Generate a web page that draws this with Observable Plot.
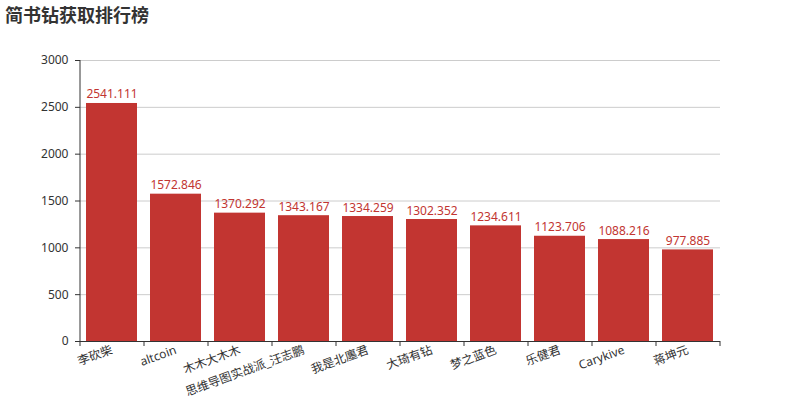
<!DOCTYPE html>
<html>
<head>
<meta charset="utf-8">
<script src="https://cdn.jsdelivr.net/npm/d3@7"></script>
<script src="https://cdn.jsdelivr.net/npm/@observablehq/plot@0.6"></script>
<style>
  body { margin: 0; background: #fff; font-family: "Noto Sans", "Noto Sans CJK SC", sans-serif; }
  #title { height: 30px; line-height: 30px; padding-left: 5px; font-size: 18px; font-weight: bold; color: #333; }
</style>
</head>
<body>
<div id="title">简书钻获取排行榜</div>
<div id="chart"></div>
<script>
const names = ["李砍柴", "altcoin", "木木大木木", "思维导图实战派_汪志鹏", "我是北廛君", "大琦有钻", "梦之蓝色", "乐健君", "Carykive", "蒋坤元"];
const values = [2541.111, 1572.846, 1370.292, 1343.167, 1334.259, 1302.352, 1234.611, 1123.706, 1088.216, 977.885];
const yTicks = [0, 500, 1000, 1500, 2000, 2500, 3000];

const data = names.map((name, i) => ({name, value: values[i]}));
const red = "#c23531";
const band = 64;

const chart = Plot.plot({
  width: 800,
  height: 371,
  marginTop: 30,
  marginBottom: 60,
  marginLeft: 80,
  marginRight: 80,
  style: {fontFamily: "'Noto Sans', 'Noto Sans CJK SC', sans-serif", fontSize: "12px", color: "#333", background: "#fff"},
  x: {domain: names, paddingInner: 0.2, paddingOuter: 0.1, label: null},
  y: {domain: [0, 3000], label: null},
  marks: [
    Plot.gridY(yTicks, {stroke: "#ccc", strokeOpacity: 1}),
    Plot.barY(data, {x: "name", y: "value", fill: red}),
    Plot.text(data, {x: "name", y: "value", text: d => String(d.value), fill: red, dy: -5, lineAnchor: "bottom", fontSize: 12}),
    Plot.ruleY([0], {stroke: "#333"}),
    Plot.ruleX([names[0]], {dx: -band / 2, stroke: "#333"}),
    Plot.axisY({ticks: yTicks, tickFormat: d => String(d), tickSize: 5, tickPadding: 7, stroke: "#333", fill: "#333", fontSize: 12}),
    Plot.axisX({tickSize: 5, tickFormat: () => "", dx: -band / 2, stroke: "#333"}),
    Plot.axisX([names[names.length - 1]], {tickSize: 5, tickFormat: () => "", dx: band / 2, stroke: "#333"}),
    Plot.axisX({tickSize: 0, tickPadding: 8, tickRotate: -20, fill: "#333", fontSize: 12})
  ]
});
document.getElementById("chart").appendChild(chart);
</script>
</body>
</html>
